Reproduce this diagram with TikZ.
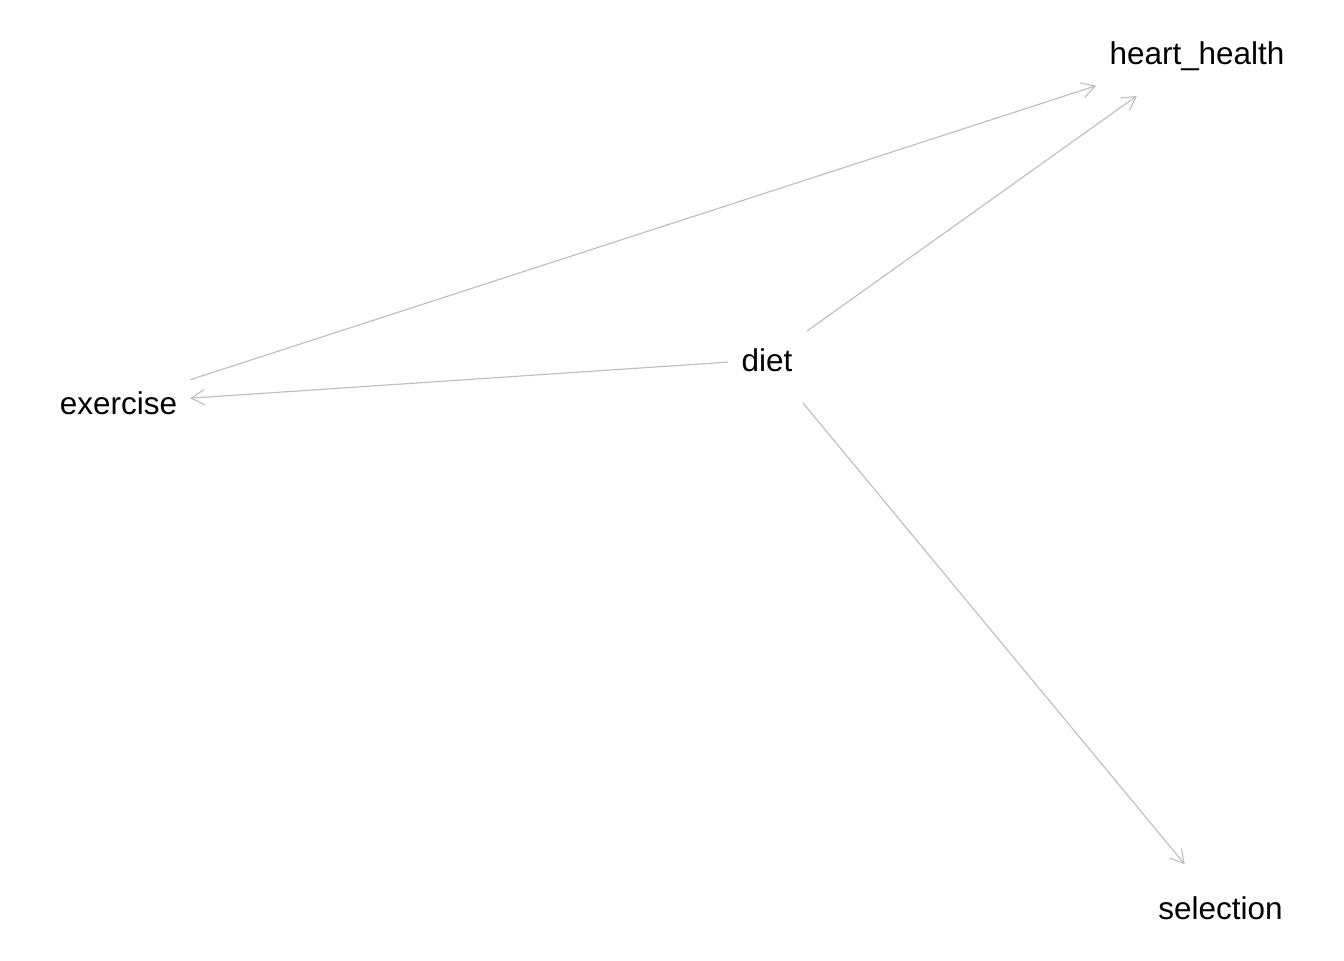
\documentclass[tikz,border=0pt]{standalone}
\usepackage{fontspec}
\setmainfont{Liberation Sans}
\usetikzlibrary{arrows.meta}
\definecolor{edgegray}{RGB}{190,190,190}
\begin{document}
\begin{tikzpicture}[x=0.75pt,y=-0.75pt,
  lbl/.style={inner sep=0pt, anchor=center, text height=1.96em, text depth=0.21em,
    font=\fontsize{23.6pt}{28pt}\selectfont},
  edge/.style={draw=edgegray, line width=0.85pt, -{Straight Barb[length=10pt,width=11.5pt]}}]
\useasboundingbox[fill=white] (0,0) rectangle (1344,960);
\node[lbl] (heart) at (1197,53) {heart\_health};
\node[lbl] (exercise) at (118.5,403) {exercise};
\node[lbl] (diet) at (767,359.5) {diet};
\node[lbl] (selection) at (1220.5,907.5) {selection};
\draw[edge, shorten <=56.6pt, shorten >=79.5pt] (exercise.center) -- (heart.center);
\draw[edge, shorten <=36.7pt, shorten >=55.4pt] (diet.center) -- (heart.center);
\draw[edge, shorten <=29.4pt, shorten >=53.8pt] (diet.center) -- (exercise.center);
\draw[edge, shorten <=42.4pt, shorten >=42.1pt] (diet.center) -- (selection.center);
\end{tikzpicture}
\end{document}
